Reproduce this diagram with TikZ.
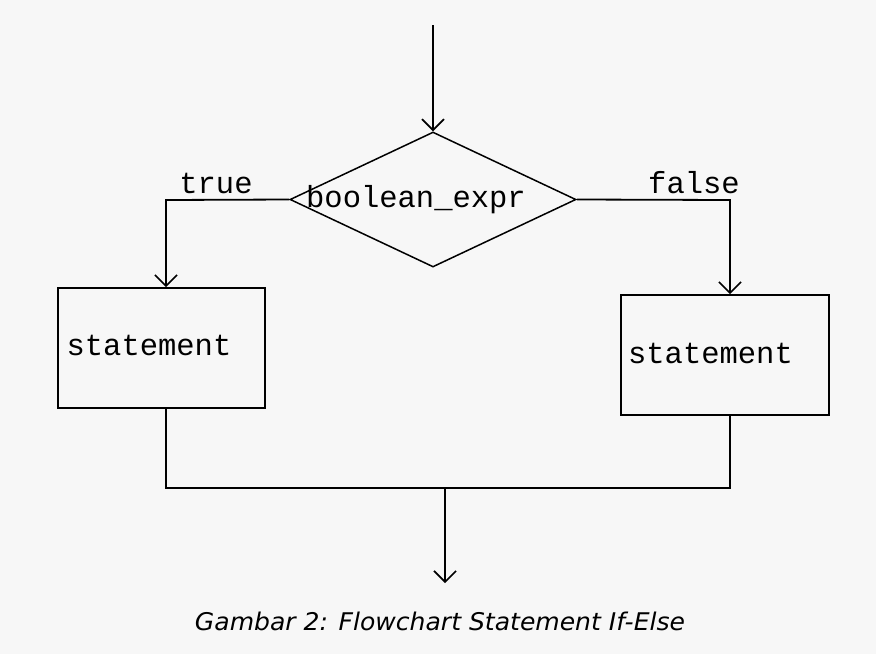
\documentclass[tikz,border=0pt]{standalone}
\usepackage{fontspec}
\setmonofont{Liberation Mono}
\newfontfamily\capfont{DejaVu Sans}
\usetikzlibrary{shapes.geometric,arrows.meta}
\begin{document}
\begin{tikzpicture}[x=1pt,y=-1pt,
  every path/.style={line width=1.8pt},
  arr/.style={-{Straight Barb[length=11pt,width=22pt,line width=1.6pt]}},
  lbl/.style={font=\fontsize{30.5pt}{32pt}\ttfamily, inner sep=0pt},
  stbox/.style={draw, inner sep=0pt},
  dia/.style={draw, diamond, line width=1.5pt, minimum width=286pt, minimum height=135pt, inner sep=0pt}]
\fill[black!3] (0,0) rectangle (876,654);
\useasboundingbox (0,0) rectangle (876,654);
% nodes
\node[dia] (d) at (433,199.5) {};
\node[lbl] (dt) at (416,200) {boolean\_expr};
\node[stbox, minimum width=207pt, minimum height=120pt] (lbox) at (161.5,348) {};
\node[stbox, minimum width=208pt, minimum height=120pt] (rbox) at (725,355) {};
\node[lbl] (lt) at (149,345) {statement};
\node[lbl] (rt) at (710.5,353) {statement};
\node[lbl] (tru) at (216,183) {true};
\node[lbl] (fal) at (694,183) {false};
\node[inner sep=0pt, anchor=base] (cap) at (440,630) {\resizebox{490pt}{18.5pt}{\capfont\itshape Gambar 2: Flowchart Statement If-Else}};
% coordinates
\coordinate (top) at (433,25);
\coordinate (tl) at (166,200);
\coordinate (tr) at (730,200);
\coordinate (bl) at (166,488);
\coordinate (br) at (730,488);
\coordinate (bm) at (445,488);
\coordinate (end) at (445,583);
% connectors
\draw[arr] (top) -- (d.north);
\draw[arr] (d.west) -- (tl) -- (tl |- lbox.north);
\draw[arr] (d.east) -- (tr) -- (tr |- rbox.north);
\draw (lbox.south -| bl) -- (bl) -- (br) -- (rbox.south -| br);
\draw[arr] (bm) -- (end);
\end{tikzpicture}
\end{document}
